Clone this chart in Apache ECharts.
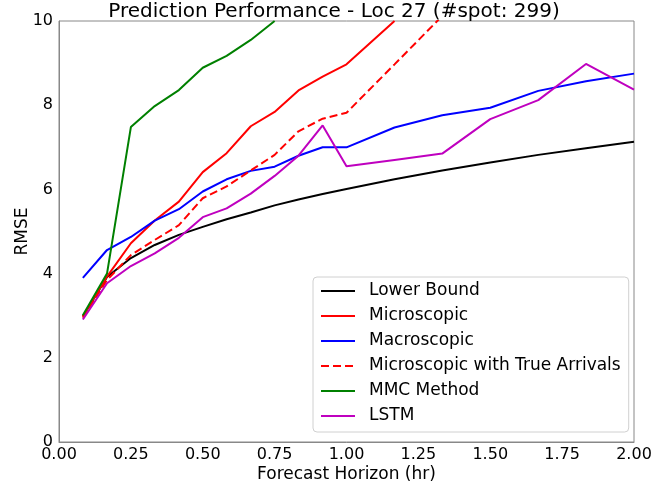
<!DOCTYPE html>
<html>
<head>
<meta charset="utf-8">
<script src="https://cdn.jsdelivr.net/npm/echarts@6/dist/echarts.min.js"></script>
<style>
html,body{margin:0;padding:0;background:#fff;}
#chart{width:668px;height:486px;}
</style>
</head>
<body>
<div id="chart"></div>
<script>
// Forecast horizon (hr)
var horizon = [0.083, 0.167, 0.25, 0.333, 0.417, 0.5, 0.583, 0.667, 0.75, 0.833, 0.917, 1.0, 1.167, 1.333, 1.5, 1.667, 1.833, 2.0];

var lowerBound   = [2.98, 3.92, 4.37, 4.68, 4.92, 5.11, 5.29, 5.45, 5.62, 5.76, 5.89, 6.01, 6.24, 6.45, 6.64, 6.82, 6.98, 7.13];
var microscopic  = [2.98, 3.93, 4.72, 5.26, 5.71, 6.41, 6.86, 7.50, 7.84, 8.35, 8.68, 8.97, 10.0, null, null, null, null, null];
var macroscopic  = [3.90, 4.56, 4.87, 5.26, 5.53, 5.95, 6.24, 6.44, 6.54, 6.80, 7.00, 7.00, 7.47, 7.76, 7.94, 8.34, 8.57, 8.75];
var microTrueArr = [2.95, 3.85, 4.44, 4.80, 5.15, 5.79, 6.07, 6.45, 6.82, 7.38, 7.68, 7.82, 8.97, 10.12, null, null, null, null];
var mmcMethod    = [3.01, 4.00, 7.48, 7.98, 8.36, 8.89, 9.17, 9.55, 10.0, null, null, null, null, null, null, null, null, null];
var lstm         = [2.91, 3.77, 4.18, 4.48, 4.85, 5.34, 5.55, 5.90, 6.32, 6.80, 7.52, 6.55, 6.70, 6.85, 7.67, 8.12, 8.98, 8.37];

var xTicks = [0, 0.25, 0.5, 0.75, 1.0, 1.25, 1.5, 1.75, 2.0];
var yTicks = [0, 2, 4, 6, 8, 10];

var seriesNames = ['Lower Bound', 'Microscopic', 'Macroscopic', 'Microscopic with True Arrivals', 'MMC Method', 'LSTM'];
var seriesValues = [lowerBound, microscopic, macroscopic, microTrueArr, mmcMethod, lstm];
var seriesColors = ['#000000', '#ff0000', '#0000ff', '#ff0000', '#008000', '#bf00bf'];
var seriesDash = ['solid', 'solid', 'solid', 'dashed', 'solid', 'solid'];

function pairs(vals) {
  var out = [];
  for (var i = 0; i < horizon.length; i++) {
    if (vals[i] !== null) out.push([horizon[i], vals[i]]);
  }
  return out;
}

var FONT = 'DejaVu Sans';
var series = seriesNames.map(function (n, i) {
  return {
    name: n,
    type: 'line',
    data: pairs(seriesValues[i]),
    symbol: 'none',
    clip: true,
    lineStyle: { color: seriesColors[i], width: 2, type: seriesDash[i] },
    itemStyle: { color: seriesColors[i] },
    emphasis: { disabled: true },
    animation: false
  };
});

var chart = echarts.init(document.getElementById('chart'), null, { renderer: 'canvas' });
chart.setOption({
  animation: false,
  backgroundColor: '#ffffff',
  title: {
    text: 'Prediction Performance - Loc 27 (#spot: 299)',
    left: 'center',
    top: 2,
    padding: 0,
    textStyle: { fontFamily: FONT, fontSize: 20, fontWeight: 'normal', color: '#000' }
  },
  grid: {
    left: 59, right: 34, top: 21, bottom: 44,
    outerBoundsMode: 'none',
    containLabel: false,
    show: true, borderColor: '#888', borderWidth: 1, backgroundColor: 'transparent'
  },
  legend: {
    orient: 'vertical',
    left: 313,
    top: 277,
    padding: [4, 8, 6, 7],
    itemWidth: 34,
    itemHeight: 14,
    itemGap: 5,
    backgroundColor: '#ffffff',
    borderColor: '#d0d0d0',
    borderWidth: 1,
    borderRadius: 4,
    itemStyle: { opacity: 0 },
    data: seriesNames,
    textStyle: { fontFamily: FONT, fontSize: 17, color: '#000', lineHeight: 20, padding: [0, 0, 0, 9] }
  },
  xAxis: {
    type: 'value',
    min: 0, max: 2, interval: 0.25,
    name: 'Forecast Horizon (hr)',
    nameLocation: 'middle',
    nameGap: 24,
    nameMoveOverlap: false,
    nameTextStyle: { fontFamily: FONT, fontSize: 17, color: '#000' },
    axisLine: { show: true, lineStyle: { color: '#888', width: 1 } },
    axisTick: { show: false },
    splitLine: { show: false },
    axisLabel: {
      fontFamily: FONT, fontSize: 16, color: '#000', margin: 5,
      formatter: function (v) { return v.toFixed(2); }
    }
  },
  yAxis: {
    type: 'value',
    min: 0, max: 10, interval: 2,
    name: 'RMSE',
    nameLocation: 'middle',
    nameGap: 28,
    nameMoveOverlap: false,
    nameRotate: 90,
    nameTextStyle: { fontFamily: FONT, fontSize: 17, color: '#000' },
    axisLine: { show: true, lineStyle: { color: '#888', width: 1 } },
    axisTick: { show: false },
    splitLine: { show: false },
    axisLabel: { fontFamily: FONT, fontSize: 16, color: '#000', margin: 6 }
  },
  series: series
});
</script>
</body>
</html>
